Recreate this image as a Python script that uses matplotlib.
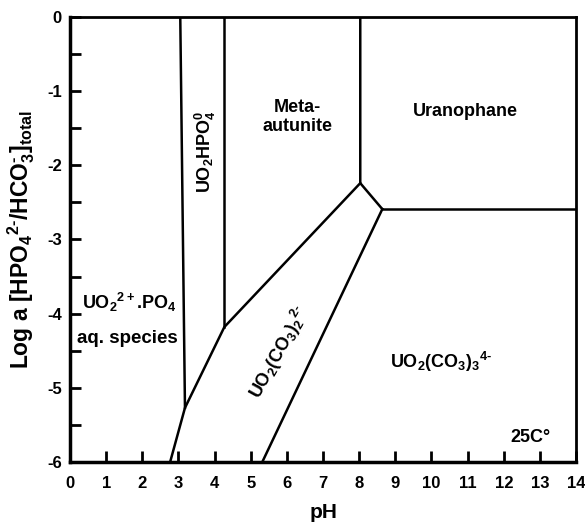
import matplotlib
matplotlib.use("Agg")
import matplotlib.pyplot as plt

plt.rcParams['font.family'] = ['Liberation Sans', 'DejaVu Sans']
plt.rcParams['font.weight'] = 'bold'
plt.rcParams['axes.unicode_minus'] = False
plt.rcParams['mathtext.fontset'] = 'custom'
plt.rcParams['mathtext.rm'] = 'Liberation Sans:bold'
plt.rcParams['mathtext.it'] = 'Liberation Sans:bold'
plt.rcParams['mathtext.bf'] = 'Liberation Sans:bold'

# boundary lines (pH, log a)
b_left_ph = [3.05, 3.18]
b_left_la = [0, -5.27]
b_hpo4_ph = [4.27, 4.27]
b_hpo4_la = [0, -4.18]
b_lower_ph = [2.77, 3.18, 4.27, 8.03]
b_lower_la = [-6, -5.27, -4.18, -2.24]
b_meta_ph = [8.03, 8.03, 8.64]
b_meta_la = [0, -2.24, -2.59]
b_uran_ph = [8.64, 14]
b_uran_la = [-2.59, -2.59]
b_carb_ph = [5.32, 8.64]
b_carb_la = [-6, -2.59]

x_ticks = list(range(0, 15))
y_ticks = [0, -1, -2, -3, -4, -5, -6]

fig = plt.figure(figsize=(5.85, 5.22), dpi=100)
ax = fig.add_axes([0.1197, 0.115, 0.865, 0.8524])

for xs, ys in [(b_left_ph, b_left_la), (b_hpo4_ph, b_hpo4_la), (b_lower_ph, b_lower_la),
               (b_meta_ph, b_meta_la), (b_uran_ph, b_uran_la), (b_carb_ph, b_carb_la)]:
    ax.plot(xs, ys, color='black', lw=1.8, solid_joinstyle='miter')

ax.set_xlim(0, 14)
ax.set_ylim(-6, 0)
ax.set_xticks(x_ticks)
ax.set_yticks(y_ticks)
ax.set_yticks([-0.5, -1.5, -2.5, -3.5, -4.5, -5.5], minor=True)
ax.tick_params(axis='both', which='major', direction='in', length=8, width=2,
               labelsize=12)
ax.tick_params(axis='x', which='major', pad=10)
ax.tick_params(axis='y', which='major', pad=6)
ax.tick_params(axis='y', which='minor', direction='in', length=8, width=2)
for lab in ax.get_xticklabels() + ax.get_yticklabels():
    lab.set_fontweight('bold')
for side in ['left', 'bottom']:
    ax.spines[side].set_linewidth(2.5)
for side in ['top', 'right']:
    ax.spines[side].set_linewidth(2)

ax.set_xlabel('pH', fontsize=15, fontweight='bold', labelpad=9)
ax.set_ylabel(r'Log a [HPO$_4$$^{2\text{-}}$/HCO$^\text{-}_3$]$_{\mathrm{total}}$',
              fontsize=16.5, fontweight='bold', labelpad=7)

fs = 13
ax.text(3.74, -1.82, r'UO$_2$HPO$^0_4$', rotation=90, ha='center', va='center',
        fontsize=fs, fontweight='bold')
ax.text(6.29, -1.35, 'Meta-\nautunite', ha='center', va='center', fontsize=fs,
        fontweight='bold', linespacing=1.1)
ax.text(10.94, -1.28, 'Uranophane', ha='center', va='center', fontsize=fs,
        fontweight='bold')
ax.text(0.33, -3.85, r'UO$_2$$^{2+}$.PO$_4$', ha='left', va='center', fontsize=fs,
        fontweight='bold')
ax.text(0.18, -4.33, 'aq. species', ha='left', va='center', fontsize=13.5,
        fontweight='bold')
ax.text(5.78, -4.53, r'UO$_2$(CO$_3$)$_2$$^{2\text{-}}$', rotation=61, ha='center',
        va='center', fontsize=fs, fontweight='bold')
ax.text(10.25, -4.65, r'UO$_2$(CO$_3$)$_3$$^{4\text{-}}$', ha='center', va='center',
        fontsize=fs, fontweight='bold')
ax.text(12.74, -5.67, '25C°', ha='center', va='center', fontsize=fs,
        fontweight='bold')

fig.savefig('out.png', dpi=100)
